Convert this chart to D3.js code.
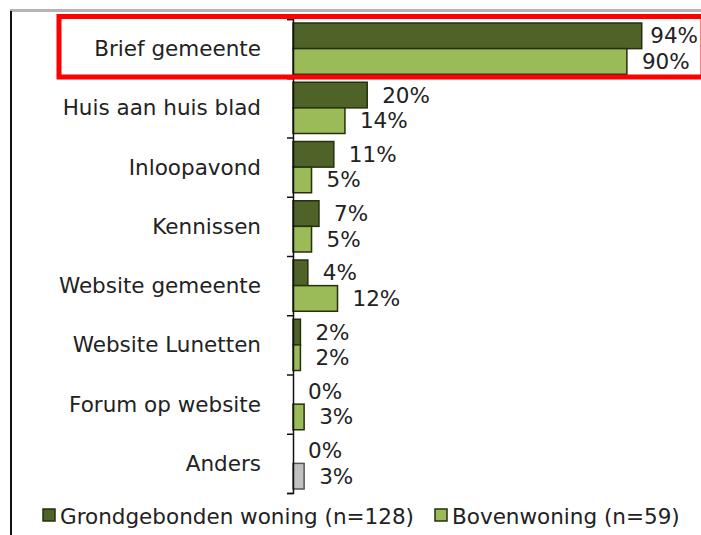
<!DOCTYPE html>
<html>
<head>
<meta charset="utf-8">
<script src="https://cdn.jsdelivr.net/npm/d3@7"></script>
<style>
  html, body { margin: 0; padding: 0; background: #fff; }
  svg { display: block; font-family: "DejaVu Sans", Verdana, sans-serif; }
</style>
</head>
<body>
<div id="chart"></div>
<script>
const categories = [
  "Brief gemeente", "Huis aan huis blad", "Inloopavond", "Kennissen",
  "Website gemeente", "Website Lunetten", "Forum op website", "Anders"
];
const grondgebonden = [94, 20, 11, 7, 4, 2, 0, 0];
const bovenwoning = [90, 14, 5, 5, 12, 2, 3, 3];
const seriesNames = ["Grondgebonden woning (n=128)", "Bovenwoning (n=59)"];

(function () {
  const W = 701, H = 535;
  const fontSize = 21.5;
  const axisX = 293, top = 19, bottom = 493;

  const svg = d3.select("#chart").append("svg")
    .attr("width", W)
    .attr("height", H);

  // frame bits from the cropped original
  svg.append("line")
    .attr("x1", 10).attr("x2", W).attr("y1", 10.5).attr("y2", 10.5)
    .attr("stroke", "#b4b4b4").attr("stroke-width", 3);
  svg.append("line")
    .attr("x1", 11).attr("x2", 11).attr("y1", 11).attr("y2", H)
    .attr("stroke", "#111").attr("stroke-width", 2);

  const y = d3.scaleBand()
    .domain(categories)
    .range([top, bottom])
    .padding(0);

  const ySub = d3.scaleBand()
    .domain(["g", "b"])
    .range([4, y.bandwidth() - 4]);

  const x = d3.scaleLinear()
    .domain([0, 100])
    .range([axisX, axisX + 371]);

  const colors = { g: "#4f6228", b: "#9bbb59" };

  const rows = categories.map((c, i) => ({
    cat: c,
    vals: [{ key: "g", v: grondgebonden[i] }, { key: "b", v: bovenwoning[i] }]
  }));

  const groups = svg.append("g").selectAll("g")
    .data(rows)
    .join("g")
    .attr("transform", d => `translate(0,${y(d.cat)})`);

  groups.selectAll("rect")
    .data(d => d.vals.map(v => ({ ...v, cat: d.cat })))
    .join("rect")
    .filter(d => d.v > 0)
    .attr("x", x(0))
    .attr("y", d => ySub(d.key))
    .attr("width", d => x(d.v) - x(0))
    .attr("height", ySub.bandwidth())
    .attr("fill", d => d.cat === "Anders" && d.key === "b" ? "#c0c0c0" : colors[d.key])
    .attr("stroke", d => d.cat === "Anders" && d.key === "b" ? "#555" : "#25300f")
    .attr("stroke-width", 1.5);

  groups.selectAll("text.val")
    .data(d => d.vals)
    .join("text")
    .attr("class", "val")
    .attr("x", d => x(d.v) + 15)
    .attr("y", d => ySub(d.key) + ySub.bandwidth() / 2)
    .attr("dy", "0.35em")
    .style("font-size", fontSize + "px")
    .attr("fill", "#222")
    .text(d => d.v + "%")
    .each(function () {
      const t = d3.select(this);
      const len = this.getComputedTextLength();
      const xs = +t.attr("x");
      if (xs + len > 698) t.attr("x", 698 - len);
    });

  // category axis with ticks between bands
  const yEdge = d3.scaleLinear().domain([0, categories.length]).range([top, bottom]);
  svg.append("g")
    .attr("transform", `translate(${axisX},0)`)
    .call(d3.axisLeft(yEdge)
      .tickValues(d3.range(0, categories.length + 1))
      .tickSize(6)
      .tickFormat(""))
    .call(g => g.selectAll("path, line").attr("stroke", "#111").attr("stroke-width", 1.5));

  svg.append("g").selectAll("text")
    .data(categories)
    .join("text")
    .attr("x", 261)
    .attr("y", d => y(d) + y.bandwidth() / 2)
    .attr("dy", "0.35em")
    .attr("text-anchor", "end")
    .style("font-size", fontSize + "px")
    .attr("fill", "#222")
    .text(d => d);

  // highlight box
  svg.append("rect")
    .attr("x", 59).attr("y", 16.5)
    .attr("width", 644).attr("height", 60.5)
    .attr("fill", "none")
    .attr("stroke", "#ff0000")
    .attr("stroke-width", 5);

  // legend
  const legendPos = [43, 435];
  const legend = svg.append("g").selectAll("g")
    .data(seriesNames)
    .join("g")
    .attr("transform", (d, i) => `translate(${legendPos[i]},509)`);
  legend.append("rect")
    .attr("width", 12).attr("height", 12)
    .attr("fill", (d, i) => i === 0 ? colors.g : colors.b)
    .attr("stroke", "#25300f")
    .attr("stroke-width", 1.5);
  legend.append("text")
    .attr("x", 17)
    .attr("y", 14.5)
    .style("font-size", fontSize + "px")
    .attr("fill", "#222")
    .text(d => d);
})();
</script>
</body>
</html>
